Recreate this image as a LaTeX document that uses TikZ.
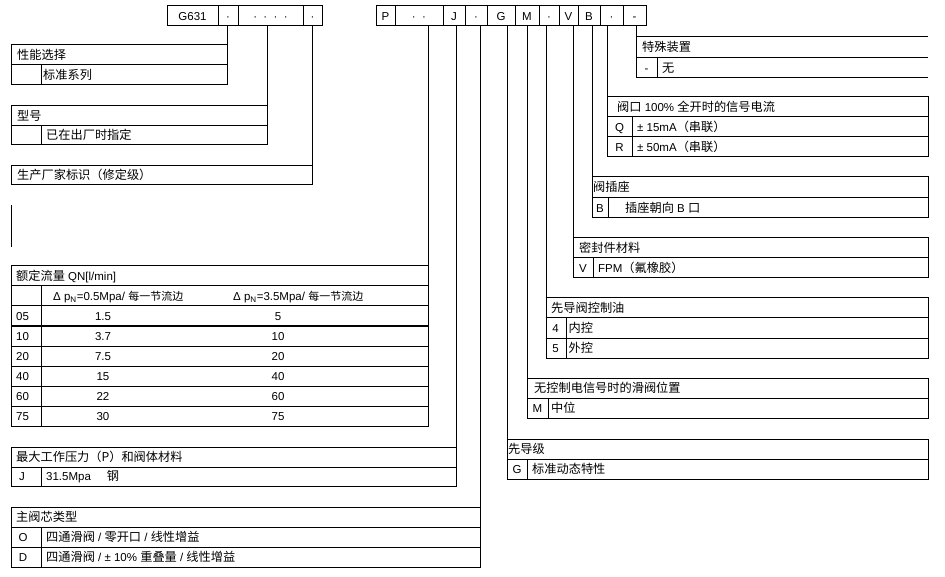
\documentclass[tikz,border=0pt]{standalone}
\usepackage{fontspec}
\setmainfont{Liberation Sans}
\newfontfamily\zhfont{Noto Sans CJK SC}
\newcommand{\zh}[1]{{\zhfont\fontsize{12.2}{13}\selectfont #1}}
\newcommand{\zhs}[1]{{\zhfont\fontsize{11}{13}\selectfont #1}}
\begin{document}
\begin{tikzpicture}[x=1pt,y=-1pt,
  ln/.style={line width=1pt, black},
  hb/.style={draw, line width=1pt, inner sep=0pt, minimum height=20pt, text height=10pt, text depth=1.4pt, font=\fontsize{11.5}{13}\selectfont},
  txt/.style={anchor=west, inner sep=0pt, text height=10pt, text depth=1.4pt, font=\fontsize{11.5}{13}\selectfont},
  ctxt/.style={anchor=center, inner sep=0pt, text height=10pt, text depth=1.4pt, font=\fontsize{11.5}{13}\selectfont}]
\useasboundingbox (0,0) rectangle (945,577);
\fill[white] (0,0) rectangle (945,577);

% ---------- header boxes (left group) ----------
\node[hb, minimum width=51pt] (g631) at (192.5,16) {G631};
\node[hb, minimum width=20pt] (ld1) at (228,16) {·};
\node[hb, minimum width=65pt] (ld2) at (270.5,16) {·\ \ ·\ \ ·\ \ ·};
\node[hb, minimum width=19pt] (ld3) at (312.5,16) {·};

% ---------- header boxes (right group) ----------
\node[hb, minimum width=19pt] (rP) at (385.5,16) {P};
\node[hb, minimum width=48pt] (rdd) at (419,16) {·\ \ ·};
\node[hb, minimum width=22pt] (rJ) at (454,16) {J};
\node[hb, minimum width=22pt] (rd1) at (476,16) {·};
\node[hb, minimum width=28pt] (rG) at (501,16) {G};
\node[hb, minimum width=24pt] (rM) at (527,16) {M};
\node[hb, minimum width=20pt] (rd2) at (549,16) {·};
\node[hb, minimum width=19pt] (rV) at (568.5,16) {V};
\node[hb, minimum width=22pt] (rB) at (589,16) {B};
\node[hb, minimum width=23pt] (rd3) at (611.5,16) {·};
\node[hb, minimum width=23pt] (rdash) at (634.5,16) {-};

% ---------- T1 性能选择 ----------
\draw[ln] (11,45) rectangle (227,85);
\draw[ln] (11,65) -- (227,65);
\draw[ln] (41,65) -- (41,85);
\node[txt] (t1h) at (17,55) {\zh{性能选择}};
\node[txt] (t1a) at (43,75) {\zh{标准系列}};
\coordinate (t1c) at (227,45);
\draw[ln] (ld1.south -| t1c) -- (t1c);

% ---------- T2 型号 ----------
\draw[ln] (11,106) rectangle (267,145);
\draw[ln] (11,126) -- (267,126);
\draw[ln] (41,126) -- (41,145);
\node[txt] (t2h) at (17,116) {\zh{型号}};
\node[txt] (t2a) at (46,135.5) {\zh{已在出厂时指定}};
\coordinate (t2c) at (267,106);
\draw[ln] (ld2.south -| t2c) -- (t2c);

% ---------- T3 生产厂家标识 ----------
\draw[ln] (11,166) rectangle (312,185);
\node[txt] (t3h) at (17,175.5) {\zh{生产厂家标识（修定级）}};
\coordinate (t3c) at (312,166);
\draw[ln] (ld3.south -| t3c) -- (t3c);

% stray line
\draw[ln] (11,205) -- (11,247);

% ---------- T4 额定流量 ----------
\draw[ln] (11,266) rectangle (428,426);
\foreach \yy in {286,306,326,346,366,386,406} {\draw[ln] (11,\yy) -- (428,\yy);}
\draw[ln] (41,286) -- (41,426);
\node[txt] (t4h) at (16,276) {\zh{额定流量} QN[l/min]};
\node[txt] (t4c1) at (53,296) {Δ\ p\textsubscript{N}=0.5Mpa/ \zhs{每一节流边}};
\node[txt] (t4c2) at (233,296) {Δ\ p\textsubscript{N}=3.5Mpa/ \zhs{每一节流边}};
\node[txt] (r1a) at (16,316) {05};
\node[ctxt] (r1b) at (103,316) {1.5};
\node[ctxt] (r1c) at (278,316) {5};
\node[txt] (r2a) at (16,336) {10};
\node[ctxt] (r2b) at (103,336) {3.7};
\node[ctxt] (r2c) at (278,336) {10};
\node[txt] (r3a) at (16,356) {20};
\node[ctxt] (r3b) at (103,356) {7.5};
\node[ctxt] (r3c) at (278,356) {20};
\node[txt] (r4a) at (16,376) {40};
\node[ctxt] (r4b) at (103,376) {15};
\node[ctxt] (r4c) at (278,376) {40};
\node[txt] (r5a) at (16,396) {60};
\node[ctxt] (r5b) at (103,396) {22};
\node[ctxt] (r5c) at (278,396) {60};
\node[txt] (r6a) at (16,416) {75};
\node[ctxt] (r6b) at (103,416) {30};
\node[ctxt] (r6c) at (278,416) {75};
\coordinate (t4c) at (428,266);
\draw[ln] (rdd.south -| t4c) -- (t4c);

% ---------- T5 最大工作压力 ----------
\draw[ln] (11,447) rectangle (456,486);
\draw[ln] (11,467) -- (456,467);
\draw[ln] (41,467) -- (41,486);
\node[txt] (t5h) at (16,457) {\zh{最大工作压力（P）和阀体材料}};
\node[ctxt] (t5k) at (22,476.5) {J};
\node[txt] (t5a) at (46,476.5) {31.5Mpa\hspace{16pt}\zh{钢}};
\coordinate (t5c) at (456,447);
\draw[ln] (rJ.south -| t5c) -- (t5c);

% ---------- T6 主阀芯类型 ----------
\draw[ln] (11,507) rectangle (480,567);
\draw[ln] (11,527) -- (480,527);
\draw[ln] (11,547) -- (480,547);
\draw[ln] (41,527) -- (41,567);
\node[txt] (t6h) at (16,517) {\zh{主阀芯类型}};
\node[ctxt] (t6k1) at (23,537) {O};
\node[txt] (t6a1) at (46,537) {\zh{四通滑阀} / \zh{零开口} / \zh{线性增益}};
\node[ctxt] (t6k2) at (23,557) {D};
\node[txt] (t6a2) at (46,557) {\zh{四通滑阀} / ± 10\% \zh{重叠量} / \zh{线性增益}};
\coordinate (t6c) at (480,507);
\draw[ln] (rd1.south -| t6c) -- (t6c);

% ---------- R1 特殊装置 ----------
\draw[ln] (636,37) -- (928,37);
\draw[ln] (636,58) -- (928,58);
\draw[ln] (636,78) -- (928,78);
\draw[ln] (657,58) -- (657,78);
\node[txt] (u1h) at (642,47.5) {\zh{特殊装置}};
\node[ctxt] (u1k) at (646.5,68) {-};
\node[txt] (u1a) at (662,68) {\zh{无}};
\coordinate (u1c) at (636,37);
\draw[ln] (rdash.south -| u1c) -- (636,78);

% ---------- R2 阀口 ----------
\draw[ln] (607,97) rectangle (928,157);
\draw[ln] (607,117) -- (928,117);
\draw[ln] (607,137) -- (928,137);
\draw[ln] (632,117) -- (632,157);
\node[txt] (u2h) at (617,107) {\zh{阀口} 100\% \zh{全开时的信号电流}};
\node[ctxt] (u2k1) at (619.5,127) {Q};
\node[txt] (u2a1) at (637,127) {± 15mA\zh{（串联）}};
\node[ctxt] (u2k2) at (619.5,147) {R};
\node[txt] (u2a2) at (637,147) {± 50mA\zh{（串联）}};
\coordinate (u2c) at (607,97);
\draw[ln] (rd3.south -| u2c) -- (u2c);

% ---------- R3 阀插座 ----------
\draw[ln] (592,177) rectangle (928,218);
\draw[ln] (592,198) -- (928,198);
\draw[ln] (608,198) -- (608,218);
\node[txt] (u3h) at (593,187.5) {\zh{阀插座}};
\node[ctxt] (u3k) at (600,208) {B};
\node[txt] (u3a) at (625,208) {\zh{插座朝向} B \zh{口}};
\coordinate (u3c) at (592,177);
\draw[ln] (rB.south -| u3c) -- (u3c);

% ---------- R4 密封件材料 ----------
\draw[ln] (573,238) rectangle (928,278);
\draw[ln] (573,258) -- (928,258);
\draw[ln] (593,258) -- (593,278);
\node[txt] (u4h) at (579,248) {\zh{密封件材料}};
\node[ctxt] (u4k) at (583,268) {V};
\node[txt] (u4a) at (598,268) {FPM\zh{（氟橡胶）}};
\coordinate (u4c) at (573,238);
\draw[ln] (rV.south -| u4c) -- (u4c);

% ---------- R5 先导阀控制油 ----------
\draw[ln] (546,298) rectangle (928,358);
\draw[ln] (546,318) -- (928,318);
\draw[ln] (546,338) -- (928,338);
\draw[ln] (566,318) -- (566,358);
\node[txt] (u5h) at (551,308) {\zh{先导阀控制油}};
\node[ctxt] (u5k1) at (555.5,328) {4};
\node[txt] (u5a1) at (568.5,328) {\zh{内控}};
\node[ctxt] (u5k2) at (555.5,348) {5};
\node[txt] (u5a2) at (568.5,348) {\zh{外控}};
\coordinate (u5c) at (546,298);
\draw[ln] (rd2.south -| u5c) -- (u5c);

% ---------- R6 无控制电信号时的滑阀位置 ----------
\draw[ln] (527,378) rectangle (928,418);
\draw[ln] (527,398) -- (928,398);
\draw[ln] (548,398) -- (548,418);
\node[txt] (u6h) at (534,388) {\zh{无控制电信号时的滑阀位置}};
\node[ctxt] (u6k) at (537.5,408) {M};
\node[txt] (u6a) at (551,408) {\zh{中位}};
\coordinate (u6c) at (527,378);
\draw[ln] (rM.south -| u6c) -- (u6c);

% ---------- R7 先导级 ----------
\draw[ln] (507,439) rectangle (928,479);
\draw[ln] (507,459) -- (928,459);
\draw[ln] (527,459) -- (527,479);
\node[txt] (u7h) at (508,449) {\zh{先导级}};
\node[ctxt] (u7k) at (517,469) {G};
\node[txt] (u7a) at (532,469) {\zh{标准动态特性}};
\coordinate (u7c) at (507,439);
\draw[ln] (rG.south -| u7c) -- (u7c);
\end{tikzpicture}
\end{document}
